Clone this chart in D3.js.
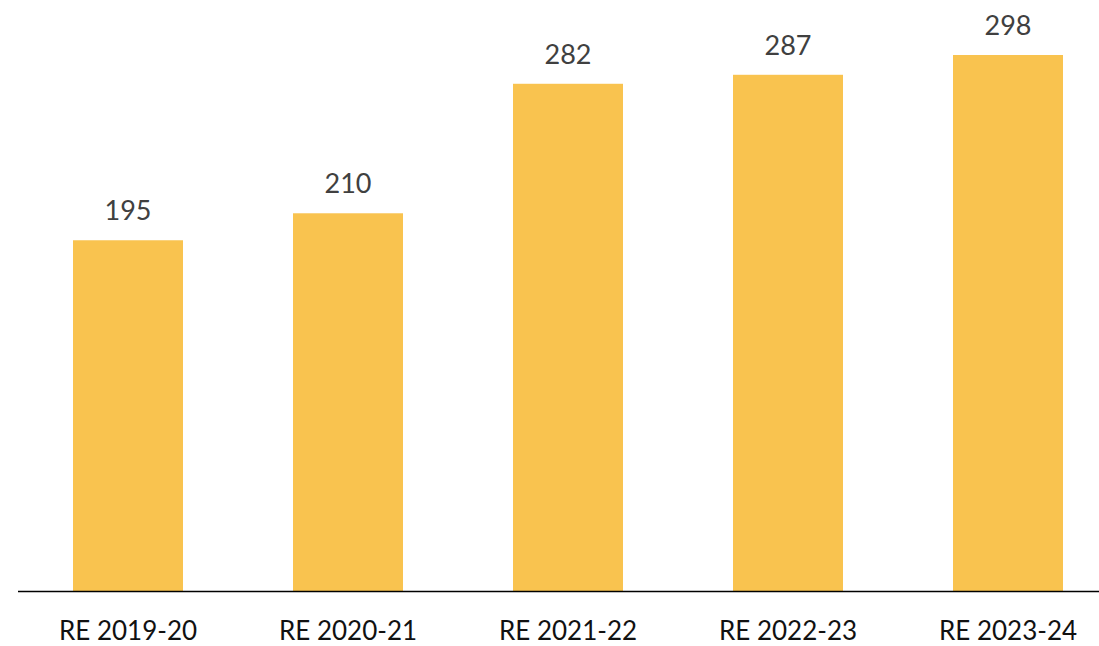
<!DOCTYPE html>
<html>
<head>
<meta charset="utf-8">
<script src="https://cdn.jsdelivr.net/npm/d3@7"></script>
<style>
  body { margin: 0; background: #fff; }
  svg { display: block; font-family: Lato, "Noto Sans", sans-serif; }
</style>
</head>
<body>
<div id="chart"></div>
<script>
const categories = ['RE 2019-20', 'RE 2020-21', 'RE 2021-22', 'RE 2022-23', 'RE 2023-24'];
const values = [195, 210, 282, 287, 298];

const width = 1099, height = 646;
const baseY = 591;

const svg = d3.select('#chart')
    .append('svg')
    .attr('width', width)
    .attr('height', height);

const x = d3.scaleBand()
    .domain(categories)
    .range([18, 1118])
    .paddingInner(0.5)
    .paddingOuter(0.25);

const y = d3.scaleLinear()
    .domain([0, 298])
    .range([baseY, 55]);

// bars
svg.selectAll('rect.bar')
    .data(values)
    .enter()
    .append('rect')
    .attr('class', 'bar')
    .attr('x', (d, i) => x(categories[i]))
    .attr('y', d => y(d))
    .attr('width', x.bandwidth())
    .attr('height', d => baseY - y(d))
    .attr('fill', '#F9C34F');

// value labels
svg.selectAll('text.val')
    .data(values)
    .enter()
    .append('text')
    .attr('class', 'val')
    .attr('x', (d, i) => x(categories[i]) + x.bandwidth() / 2)
    .attr('y', d => y(d) - 20)
    .attr('text-anchor', 'middle')
    .attr('font-size', '27px')
    .attr('fill', '#404040')
    .text(d => d);

// baseline axis
const axis = svg.append('g')
    .attr('transform', `translate(0, ${baseY})`)
    .call(d3.axisBottom(x).tickSize(0));

axis.select('.domain')
    .attr('d', `M18,0.5H${width}`)
    .attr('stroke', '#000')
    .attr('stroke-width', 1.5);

axis.selectAll('text')
    .attr('font-size', '26px')
    .attr('font-family', 'Lato, "Noto Sans", sans-serif')
    .attr('fill', '#111')
    .attr('dy', null)
    .attr('y', 49);
</script>
</body>
</html>
